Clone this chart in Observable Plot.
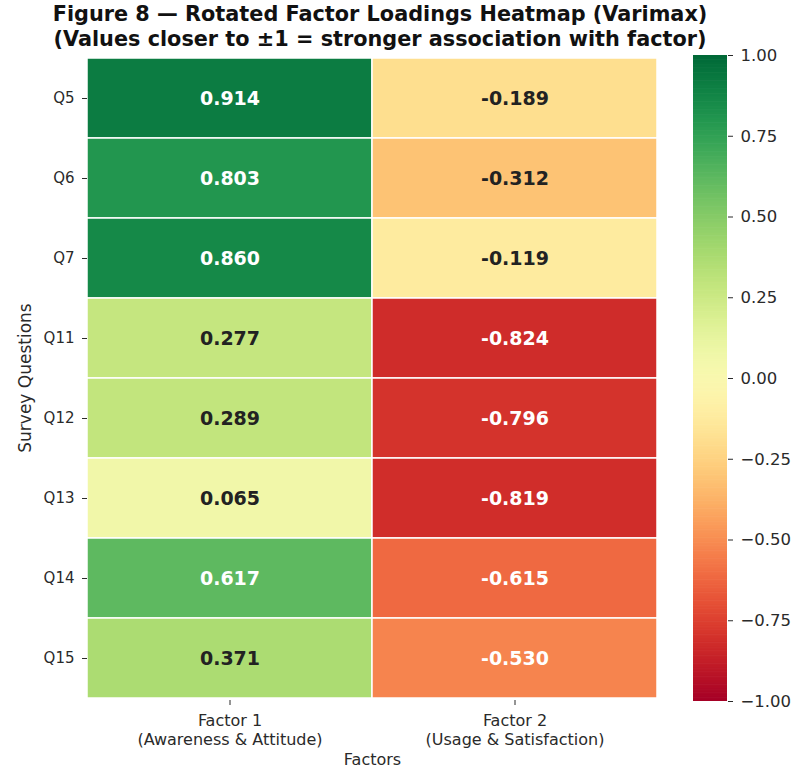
<!DOCTYPE html>
<html><head><meta charset="utf-8">
<script src="https://cdn.jsdelivr.net/npm/d3@7"></script>
<script src="https://cdn.jsdelivr.net/npm/@observablehq/plot@0.6"></script>
<style>
body{margin:0;background:#fff;font-family:"DejaVu Sans",sans-serif;}
#wrap{position:relative;width:795px;height:769px;overflow:hidden;}
#title{position:absolute;left:0;top:2px;width:760px;text-align:center;font-weight:bold;font-size:20.8px;line-height:25px;color:#111;z-index:2;white-space:nowrap;}
#main{position:absolute;left:0;top:0;}
#cbar{position:absolute;left:693px;top:0;}
</style></head>
<body><div id="wrap">
<div id="title">Figure 8 — Rotated Factor Loadings Heatmap (Varimax)<br>(Values closer to ±1 = stronger association with factor)</div>
<div id="main"></div><div id="cbar"></div></div>
<script>
const questions = ["Q5","Q6","Q7","Q11","Q12","Q13","Q14","Q15"];
const factors = ["Factor 1","Factor 2"];
const factorDescriptions = ["(Awareness & Attitude)","(Usage & Satisfaction)"];
const factor1Loadings = [0.914,0.803,0.860,0.277,0.289,0.065,0.617,0.371];
const factor2Loadings = [-0.189,-0.312,-0.119,-0.824,-0.796,-0.819,-0.615,-0.530];
const colorbarTicks = [-1,-0.75,-0.5,-0.25,0,0.25,0.5,0.75,1];

const cells = [];
questions.forEach((q,i)=>{
  cells.push({q, f:factors[0], v:factor1Loadings[i]});
  cells.push({q, f:factors[1], v:factor2Loadings[i]});
});
const colorOpts = {type:"linear", scheme:"RdYlGn", domain:[-1,1]};
function lum(v){
  const c = d3.rgb(d3.interpolateRdYlGn((v+1)/2));
  const f = x=>{x/=255;return x<=0.03928?x/12.92:Math.pow((x+0.055)/1.055,2.4);};
  return 0.2126*f(c.r)+0.7152*f(c.g)+0.0722*f(c.b);
}
const isDark = d => lum(d.v) <= 0.408;
const fmt = v => v.toFixed(3);
const tickLab = new Map(factors.map((f,i)=>[f, f+"\n"+factorDescriptions[i]]));

const main = Plot.plot({
  width: 680, height: 769,
  marginLeft: 87, marginRight: 23, marginTop: 55, marginBottom: 69,
  style:{fontFamily:"DejaVu Sans", fontSize:"15px", color:"#2a2a2a"},
  x:{domain:factors, padding:0},
  y:{domain:questions, padding:0},
  color: colorOpts,
  marks:[
    Plot.cell(cells,{x:"f", y:"q", fill:"v", stroke:"white", strokeWidth:1.5}),
    Plot.text(cells.filter(isDark),{x:"f", y:"q", text:d=>fmt(d.v), fill:"white", fontWeight:"bold", fontSize:19}),
    Plot.text(cells.filter(d=>!isDark(d)),{x:"f", y:"q", text:d=>fmt(d.v), fill:"#222", fontWeight:"bold", fontSize:19}),
    Plot.axisY({tickSize:5, tickPadding:8, fontSize:15, label:null}),
    Plot.axisY({ticks:[], tickSize:0, fontSize:17, label:"Survey Questions", labelAnchor:"center", labelOffset:69}),
    Plot.axisX({tickSize:5, tickPadding:7, fontSize:16, lineHeight:1.2, tickFormat:f=>tickLab.get(f), label:null}),
    Plot.axisX({ticks:[], tickSize:0, fontSize:16, label:"Factors", labelAnchor:"center", labelOffset:64})
  ]
});
document.getElementById("main").appendChild(main);

const steps = d3.range(-1, 1, 0.005);
const cbar = Plot.plot({
  width: 102, height: 769,
  marginLeft: 0, marginRight: 68, marginTop: 55, marginBottom: 68,
  style:{fontFamily:"DejaVu Sans", fontSize:"16.5px", color:"#2a2a2a"},
  y:{domain:[-1,1]},
  color: colorOpts,
  marks:[
    Plot.rect(steps,{y1:d=>d, y2:d=>Math.min(1,d+0.007), fill:d=>d+0.0025}),
    Plot.axisY({anchor:"right", ticks:colorbarTicks, tickFormat:d3.format(".2f"), tickSize:5, tickPadding:8, fontSize:16.5, label:null})
  ]
});
document.getElementById("cbar").appendChild(cbar);
</script></body></html>
